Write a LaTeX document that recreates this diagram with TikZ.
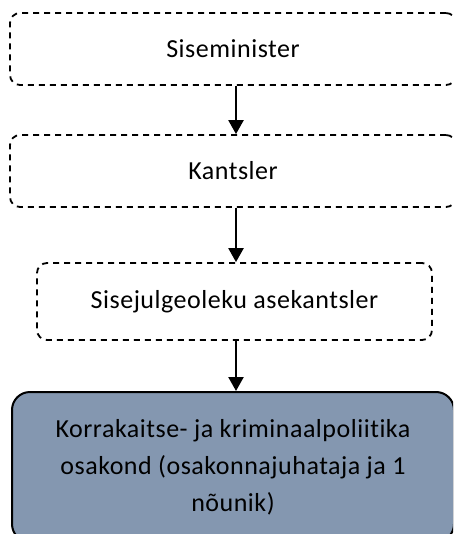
\documentclass[tikz,border=0pt]{standalone}
\usepackage{fontspec}
\setmainfont{Carlito}[LetterSpace=2, Ligatures=NoCommon]
\usetikzlibrary{arrows.meta}
\definecolor{unitfill}{HTML}{8497B0}

\begin{document}
\begin{tikzpicture}[x=1pt, y=-1pt, >={Triangle[width=15pt,length=14pt]}, line width=2.4pt,
    dashbox/.style={draw, dash pattern=on 6pt off 5pt, line width=1.8pt,
      rounded corners=10pt, minimum height=72pt, inner sep=0pt,
      font=\fontsize{26}{37}\selectfont},
    unitbox/.style={draw, fill=unitfill, line width=2pt, rounded corners=18pt,
      inner sep=0pt, align=center, font=\fontsize{26}{37}\selectfont}]
    \useasboundingbox (0,0) rectangle (453,534);
    \clip (0,0) rectangle (453,534);

    % Minister
    \node[dashbox, minimum width=446pt] (minister) at (233,49) {Siseminister};

    % Chancellor
    \node[dashbox, minimum width=446pt] (kantsler) at (233,171) {Kantsler};

    % Deputy chancellor
    \node[dashbox, minimum width=395pt, minimum height=77pt] (asekantsler) at (234.5,301.5) {Sisejulgeoleku asekantsler};

    % Department
    \node[unitbox, minimum width=442pt, minimum height=150pt] (osakond) at (233,467)
      {Korrakaitse- ja kriminaalpoliitika\\osakond (osakonnajuhataja ja 1\\nõunik)};

    % Arrows
    \draw[->] ([xshift=3pt]minister.south) -- ([xshift=3pt]kantsler.north);
    \draw[->] ([xshift=3pt]kantsler.south) -- ([xshift=1.5pt]asekantsler.north);
    \draw[->] ([xshift=1.5pt]asekantsler.south) -- ([xshift=3pt]osakond.north);
\end{tikzpicture}
\end{document}
